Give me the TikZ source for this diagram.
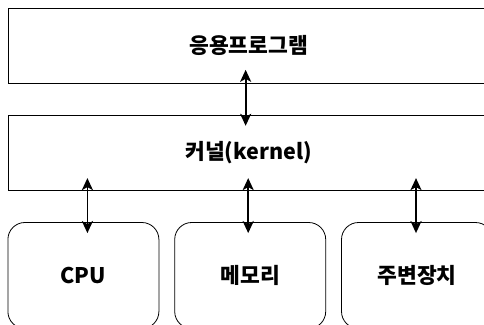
\documentclass[tikz,border=0pt]{standalone}
\usepackage{fontspec}
\setmainfont{Noto Sans CJK KR}
\usetikzlibrary{positioning, arrows.meta}

\begin{document}
\begin{tikzpicture}[>={Stealth[length=12pt, width=11pt, inset=3pt]},
		blk/.style={rectangle, draw, line width=0.8pt, font=\bfseries\fontsize{21.5}{24}\selectfont},
		dev/.style={blk, rounded corners=17pt, minimum width=151pt, minimum height=106pt},
		dbl/.style={<->, line width=1.8pt}]
		\useasboundingbox (0pt,0pt) rectangle (484pt,-324pt);
		\clip (0pt,0pt) rectangle (484pt,-324pt);

		\node[blk, anchor=north west, minimum width=481.5pt, minimum height=75.5pt] (app) at (7.5pt,-7.5pt) {응용프로그램};
		\node[blk, below=31pt of app, minimum width=481.5pt, minimum height=75.5pt] (kern) {커널(kernel)};
		\node[dev, below right=31pt and 0pt of kern.south west] (cpu) {CPU};
		\node[dev, right=15pt of cpu] (mem) {메모리};
		\node[dev, right=15pt of mem] (io) {주변장치};

		\draw[dbl] ([xshift=-3pt, yshift=14pt]app.south) -- ([xshift=-3pt, yshift=-11pt]kern.north);
		\draw[dbl] ([xshift=4pt, yshift=13pt]kern.south -| cpu.north) -- ([xshift=4pt, yshift=-11pt]cpu.north);
		\draw[dbl] ([xshift=-2pt, yshift=13pt]kern.south -| mem.north) -- ([xshift=-2pt, yshift=-11pt]mem.north);
		\draw[dbl] ([xshift=-1pt, yshift=13pt]kern.south -| io.north) -- ([xshift=-1pt, yshift=-11pt]io.north);
	\end{tikzpicture}
\end{document}
